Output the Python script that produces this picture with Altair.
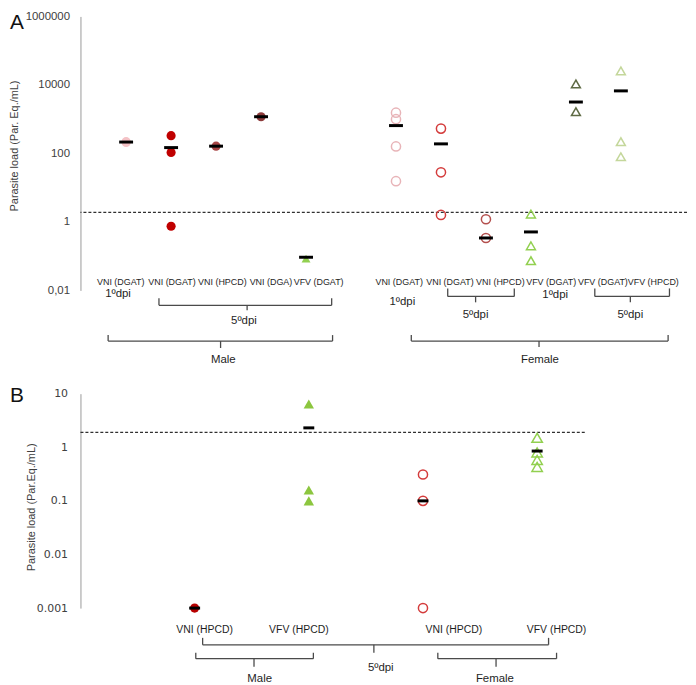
import altair as alt
import pandas as pd

# ---------------- Panel A data ----------------
a_sex = ["Male"] * 5 + ["Female"] * 6
a_virus = ["VNI", "VNI", "VNI", "VNI", "VFV", "VNI", "VNI", "VNI", "VFV", "VFV", "VFV"]
a_labels = ["VNI (DGAT)", "VNI (DGAT)", "VNI (HPCD)", "VNI (DGA)", "VFV (DGAT)",
            "VNI (DGAT)", "VNI (DGAT)", "VNI (HPCD)", "VFV (DGAT)", "VFV (DGAT)", "VFV (HPCD)"]
a_dpi = ["1ºdpi", "5ºdpi", "5ºdpi", "5ºdpi", "5ºdpi",
         "1ºdpi", "5ºdpi", "5ºdpi", "1ºdpi", "5ºdpi", "5ºdpi"]
a_slot = [0, 1, 2, 3, 4, 6, 7, 8, 9, 10, 11]
a_values = [[220, 210], [330, 107, 0.75], [163], [1180], [0.085],
            [1550, 1000, 160, 15.5], [530, 28, 1.6], [1.2, 0.34],
            [1.7, 0.2, 0.074], [10700, 1650], [25700, 220, 80]]
a_means = [215, 148, 163, 1180, 0.093, 650, 190, 0.34, 0.51, 3170, 6700]
a_threshold = 1.9
a_ticks = [0.01, 1, 100, 10000, 1000000]

# ---------------- Panel B data ----------------
b_sex = ["Male", "Male", "Female", "Female"]
b_virus = ["VNI", "VFV", "VNI", "VFV"]
b_labels = ["VNI (HPCD)", "VFV (HPCD)", "VNI (HPCD)", "VFV (HPCD)"]
b_slot = [0, 1, 2, 3]
b_values = [[0.001], [6.4, 0.16, 0.1], [0.31, 0.1, 0.001], [1.5, 0.8, 0.58, 0.43]]
b_means = [0.001, 2.3, 0.1, 0.85]
b_threshold = 1.9
b_ticks = [0.001, 0.01, 0.1, 1, 10]

# ---------------- styles ----------------
a_colors = ["#f4c2c6", "#c00000", "#a84646", "#8c3a3a", "#92d050",
            "#e8b4b8", "#d43c3c", "#b4504e", "#92d050", "#5f6b45", "#c4d79b"]
b_colors = ["#b80000", "#8cc63f", "#d43c3c", "#92d050"]
FONT = "Liberation Sans"
TXT = "#1e1e1e"
AX = "#404040"


def points_df(prefix, slots, sexes, viruses, values):
    rows = []
    for i, vals in enumerate(values):
        for v in vals:
            rows.append({"gid": prefix + str(i), "slot": slots[i], "value": v,
                         "sex": sexes[i], "virus": viruses[i]})
    return pd.DataFrame(rows)


def brace_rules(braces):
    rows = []
    for (x1, x2, xc, top, hor, bot) in braces:
        rows += [
            {"x": x1, "x2": x2, "py": hor, "py2": hor},
            {"x": x1, "x2": x1, "py": top, "py2": hor},
            {"x": x2, "x2": x2, "py": top, "py2": hor},
            {"x": xc, "x2": xc, "py": hor, "py2": bot},
        ]
    return pd.DataFrame(rows)


def panel(letter, letter_xy, slots, sexes, viruses, values, means, colors, thr,
          xdom, width, height, ydom, ticks, label_expr, ylab_font, ylab_size,
          ylab_pad, title_xy, tri_size, circ_size, bar_size,
          cat_df, cat_size, text_df, braces, yfmt=None):
    ids = [letter + str(i) for i in range(len(slots))]
    pts = points_df(letter, slots, sexes, viruses, values)
    mdf = pd.DataFrame({"slot": slots, "mean": means})
    xs = alt.Scale(domain=xdom, nice=False, zero=False)
    ys = alt.Scale(type="log", domain=ydom, nice=False)
    color = alt.Color("gid:N", scale=alt.Scale(domain=ids, range=colors), legend=None)
    shape = alt.Shape("virus:N", scale=alt.Scale(domain=["VNI", "VFV"],
                                                  range=["circle", "triangle-up"]), legend=None)
    size = alt.Size("virus:N", scale=alt.Scale(domain=["VNI", "VFV"],
                                                range=[circ_size, tri_size]), legend=None)
    axis_kw = dict(values=ticks, ticks=False, grid=False, domainColor="#9a9a9a",
                   labelFont=ylab_font, labelFontSize=ylab_size, labelColor=AX,
                   labelPadding=ylab_pad, title="Parasite load (Par. Eq./mL)" if letter == "A"
                   else "Parasite load (Par.Eq./mL)",
                   titleFont=FONT, titleFontSize=11, titleFontWeight="normal",
                   titleColor=AX, titleAngle=-90, titleX=title_xy[0], titleY=title_xy[1],
                   titleAlign="center", titleBaseline="middle")
    if label_expr:
        axis_kw["labelExpr"] = label_expr
    if yfmt:
        axis_kw["format"] = yfmt
    base_x = alt.X("slot:Q", scale=xs, axis=None)

    filled = alt.Chart(pts).transform_filter(alt.datum.sex == "Male").mark_point(
        filled=True, opacity=1).encode(
        x=base_x, y=alt.Y("value:Q", scale=ys, axis=alt.Axis(**axis_kw)),
        color=color, shape=shape, size=size)
    hollow = alt.Chart(pts).transform_filter(alt.datum.sex == "Female").mark_point(
        filled=False, opacity=1, strokeWidth=1.5).encode(
        x=base_x, y=alt.Y("value:Q", scale=ys),
        color=color, shape=shape, size=size)
    bars = alt.Chart(mdf).mark_tick(orient="horizontal", color="black", opacity=1,
                                    thickness=3, size=bar_size).encode(
        x=base_x, y=alt.Y("mean:Q", scale=ys))
    thr_rule = alt.Chart(pd.DataFrame({"t": [thr]})).mark_rule(
        strokeDash=[3, 2], color="#303030", strokeWidth=1.2).encode(
        y=alt.Y("t:Q", scale=ys))
    cats = alt.Chart(cat_df).mark_text(font=FONT, fontSize=cat_size, fill=TXT,
                                       align="center", baseline="middle").encode(
        x=alt.X("x:Q", scale=xs, axis=None),
        y=alt.Y("py:Q", scale=None, axis=None), text="text:N")
    texts = alt.Chart(text_df).mark_text(font=FONT, fontSize=11.5, fill=TXT,
                                         align="center", baseline="middle").encode(
        x=alt.X("x:Q", scale=xs, axis=None),
        y=alt.Y("py:Q", scale=None, axis=None), text="text:N")
    rules = alt.Chart(brace_rules(braces)).mark_rule(color="#4a4a4a", strokeWidth=1.3).encode(
        x=alt.X("x:Q", scale=xs, axis=None), x2="x2:Q",
        y=alt.Y("py:Q", scale=None, axis=None), y2="py2:Q")
    let = alt.Chart(pd.DataFrame({"t": [letter]})).mark_text(
        font=FONT, fontSize=21, fill="#111111", align="left", baseline="top").encode(
        x=alt.value(letter_xy[0]), y=alt.value(letter_xy[1]), text="t:N")
    return alt.layer(thr_rule, filled, hollow, bars, cats, texts, rules, let).properties(
        width=width, height=height)


# ---- Panel A annotations (x in slot units) ----
a_cat = pd.DataFrame({
    "text": a_labels,
    "x": [-0.12, 1.02, 2.14, 3.22, 4.28, 6.07, 7.20, 8.32, 9.45, 10.60, 11.72],
    "py": [268] * 11})
a_txt = pd.DataFrame({
    "text": ["1ºdpi", "5ºdpi", "Male", "1ºdpi", "5ºdpi", "1ºdpi", "5ºdpi", "Female"],
    "x": [-0.18, 2.62, 2.16, 6.14, 7.77, 9.54, 11.21, 9.2],
    "py": [280, 307, 346, 288, 301, 281, 301, 346]})
a_braces = [
    (0.73, 4.57, 2.69, 284, 291, 296),
    (-0.40, 4.59, 2.10, 321, 327, 334),
    (7.15, 8.63, 7.77, 274, 282, 288),
    (10.42, 12.08, 11.21, 274, 282, 288),
    (6.34, 12.05, 9.18, 321, 327, 333),
]

# ---- Panel B annotations ----
b_cat = pd.DataFrame({"text": b_labels, "x": [0.087, 0.913, 2.27, 3.17], "py": [238] * 4})
b_txt = pd.DataFrame({"text": ["5ºdpi", "Male", "Female"],
                      "x": [1.63, 0.57, 2.63], "py": [276, 287, 287]})
b_braces = [
    (0.07, 3.10, 1.57, 246, 253, 261),
    (0.01, 1.04, 0.52, 261, 267, 275),
    (2.13, 3.17, 2.64, 261, 267, 275),
]

chart_a = panel("A", (-71, -4), a_slot, a_sex, a_virus, a_values, a_means, a_colors,
                a_threshold, [-1.015, 12.47], 611, 276, [0.01, 1000000], a_ticks,
                "replace(format(datum.value, '~f'), '.', ',')", FONT, 11.5, 11,
                (-66, 130), 81, 85, 14, a_cat, 9, a_txt, a_braces)
chart_b = panel("B", (-71, -9), b_slot, b_sex, b_virus, b_values, b_means, b_colors,
                b_threshold, [-1.0, 3.417], 508, 216, [0.001, 10], b_ticks,
                None, "DejaVu Sans", 11, 13, (-49, 114), 110, 85, 11,
                b_cat, 10.5, b_txt, b_braces, yfmt="~f")

chart = alt.vconcat(chart_a, chart_b, spacing=19).resolve_scale(
    color="independent", shape="independent", size="independent"
).properties(
    padding={"left": 0, "top": 0, "right": 0, "bottom": 0}
).configure_view(stroke=None)

chart.save("out.html", embed_options={"renderer": "svg", "actions": False})
